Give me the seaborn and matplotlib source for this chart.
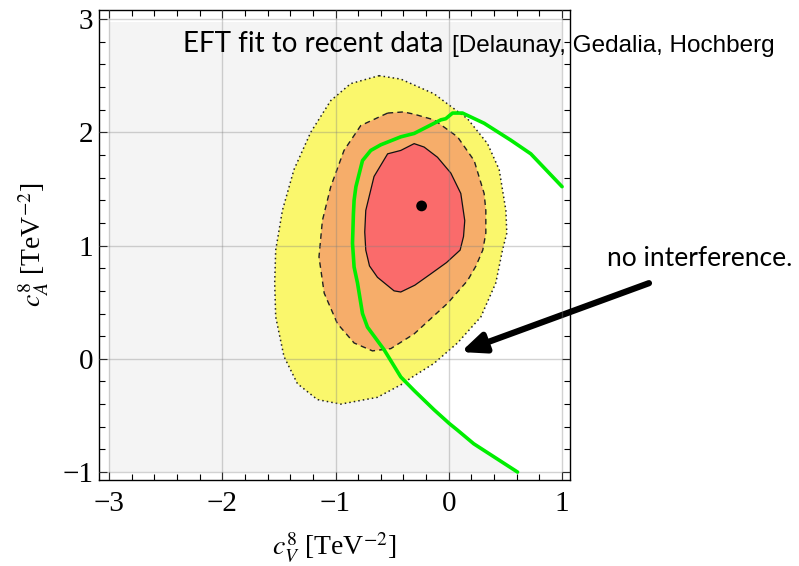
import numpy as np
import pandas as pd
from matplotlib import pyplot as plt
import seaborn as sns

# ---------------- DATA ---------------------------------------------------
# best fit point
best_cv = [-0.24]
best_ca = [1.35]

# 3 sigma region (yellow, dotted edge)
yellow_cv = [-0.616, -0.424, -0.13, -0.01, 0.165, 0.342, 0.445, 0.504, 0.512, 0.474,
             0.415, 0.283, 0.077, -0.13, -0.336, -0.424, -0.63, -0.954, -1.16, -1.336,
             -1.455, -1.528, -1.537, -1.528, -1.469, -1.367, -1.219, -1.042, -0.866]
yellow_ca = [2.50, 2.47, 2.34, 2.25, 2.12, 1.90, 1.67, 1.31, 1.11, 0.96,
             0.67, 0.37, 0.14, -0.04, -0.17, -0.23, -0.34, -0.40, -0.36, -0.22,
             0.02, 0.37, 0.67, 0.96, 1.31, 1.67, 2.00, 2.28, 2.43]

# 2 sigma region (orange, dashed edge)
orange_cv = [-0.54, -0.40, -0.306, -0.13, 0.077, 0.224, 0.312, 0.327, 0.327, 0.30,
             0.24, 0.165, -0.011, -0.306, -0.512, -0.674, -0.836, -0.983, -1.10, -1.146,
             -1.116, -1.042, -0.925, -0.777]
orange_ca = [2.17, 2.18, 2.16, 2.11, 1.96, 1.75, 1.46, 1.31, 1.11, 0.96,
             0.82, 0.69, 0.49, 0.22, 0.09, 0.07, 0.14, 0.31, 0.58, 0.90,
             1.22, 1.52, 1.84, 2.06]

# 1 sigma region (red, solid edge)
red_cv = [-0.424, -0.306, -0.218, -0.10, 0.018, 0.106, 0.141, 0.13, 0.10, -0.02, -0.159,
          -0.30, -0.424, -0.483, -0.63, -0.70, -0.733, -0.742, -0.733, -0.66, -0.54]
red_ca = [1.84, 1.90, 1.87, 1.78, 1.64, 1.46, 1.22, 1.08, 0.96, 0.85, 0.75,
          0.65, 0.59, 0.60, 0.72, 0.82, 0.96, 1.12, 1.31, 1.61, 1.81]

# no interference curve (green)
green_cv = [1.0, 0.724, 0.548, 0.312, 0.121, 0.033, -0.027, -0.07, -0.188, -0.306,
            -0.424, -0.60, -0.689, -0.762, -0.82, -0.836, -0.842, -0.85, -0.836, -0.806,
            -0.762, -0.718, -0.571, -0.424, -0.306, -0.13, 0.003, 0.077, 0.22, 0.607]
green_ca = [1.52, 1.81, 1.93, 2.08, 2.17, 2.17, 2.12, 2.11, 2.05, 1.99,
            1.96, 1.89, 1.84, 1.75, 1.52, 1.40, 1.28, 1.02, 0.81, 0.67,
            0.40, 0.28, 0.08, -0.16, -0.28, -0.45, -0.57, -0.63, -0.75, -1.0]

x_ticks = [-3, -2, -1, 0, 1]
y_ticks = [-1, 0, 1, 2, 3]

# ---------------- STYLE --------------------------------------------------
sns.set_style("ticks")
plt.rcParams['font.family'] = ['Liberation Serif', 'DejaVu Serif']
plt.rcParams['mathtext.fontset'] = 'stix'
plt.rcParams['text.color'] = 'black'
plt.rcParams['axes.labelcolor'] = 'black'
plt.rcParams['xtick.color'] = 'black'
plt.rcParams['ytick.color'] = 'black'

fig = plt.figure(figsize=(7.99, 5.66), dpi=100)
ax = fig.add_axes([99/799, 1-480/566, 471/799, 470/566])

# background region
ax.fill([-3, 1, 1, -3], [-1, -1, 2.97, 2.97], color='#f4f4f4', lw=0, zorder=0)
ax.fill(green_cv + [1.0], green_ca + [-1.0], color='white', lw=0, zorder=0.5)

ax.fill(yellow_cv, yellow_ca, facecolor='#faf76c', edgecolor='#222222', ls=(0, (1, 2)), lw=1.1, zorder=1)
ax.fill(orange_cv, orange_ca, facecolor='#f6ad6a', edgecolor='#222222', ls=(0, (4, 3)), lw=1.0, zorder=2)
ax.fill(red_cv, red_ca, facecolor='#fa6b6b', edgecolor='#111111', ls='-', lw=0.9, zorder=3)

for v in x_ticks:
    ax.axvline(v, color='#808080', alpha=0.35, lw=1, zorder=4)
for v in y_ticks:
    ax.axhline(v, color='#808080', alpha=0.35, lw=1, zorder=4)

green = pd.DataFrame({'cv': green_cv, 'ca': green_ca})
sns.lineplot(data=green, x='cv', y='ca', sort=False, estimator=None, color='#00ee00', lw=2.6, ax=ax, zorder=5)
sns.scatterplot(x=best_cv, y=best_ca, color='black', s=60, edgecolor='none', ax=ax, zorder=6)

ax.set_xlim(-3.088, 1.07)
ax.set_ylim(-1.07, 3.08)
ax.set_xticks(x_ticks)
ax.set_yticks(y_ticks)
ax.set_xticks(np.arange(-3, 1.01, 0.2), minor=True)
ax.set_yticks(np.arange(-1, 3.01, 0.2), minor=True)
ax.tick_params(which='both', direction='in', top=True, right=True, labelsize=21, width=0.8)
ax.tick_params(axis='x', which='major', pad=8)
ax.tick_params(axis='y', which='major', pad=4)
ax.tick_params(which='major', length=6)
ax.tick_params(which='minor', length=4)
for s in ax.spines.values():
    s.set_linewidth(1.0)
    s.set_color('black')

ax.set_xlabel(r'$c_V^8$ [TeV$^{-2}$]', fontsize=20, labelpad=10)
ax.set_ylabel(r'$c_A^8$ [TeV$^{-2}$]', fontsize=20, labelpad=8)

# ---------------- TEXT AND ARROW -----------------------------------------
fig.text(183/799, 1-52/566, 'EFT fit to recent data', family=['Lato', 'DejaVu Sans'], fontsize=20, va='baseline')
fig.text(452/799, 1-52/566, '[Delaunay, Gedalia, Hochberg', family=['Liberation Sans'], fontsize=17.5, va='baseline')
fig.text(607/799, 1-266/566, 'no interference.', family=['Lato', 'DejaVu Sans'], fontsize=19, va='baseline')

ax.annotate('', xy=(0.106, 0.06), xytext=(1.767, 0.668), xycoords='data', textcoords='data',
            annotation_clip=False,
            arrowprops=dict(arrowstyle='-|>,head_length=1.4,head_width=0.6', color='black', lw=4.5,
                            shrinkA=0, shrinkB=0))

fig.savefig('out.png', dpi=100)
